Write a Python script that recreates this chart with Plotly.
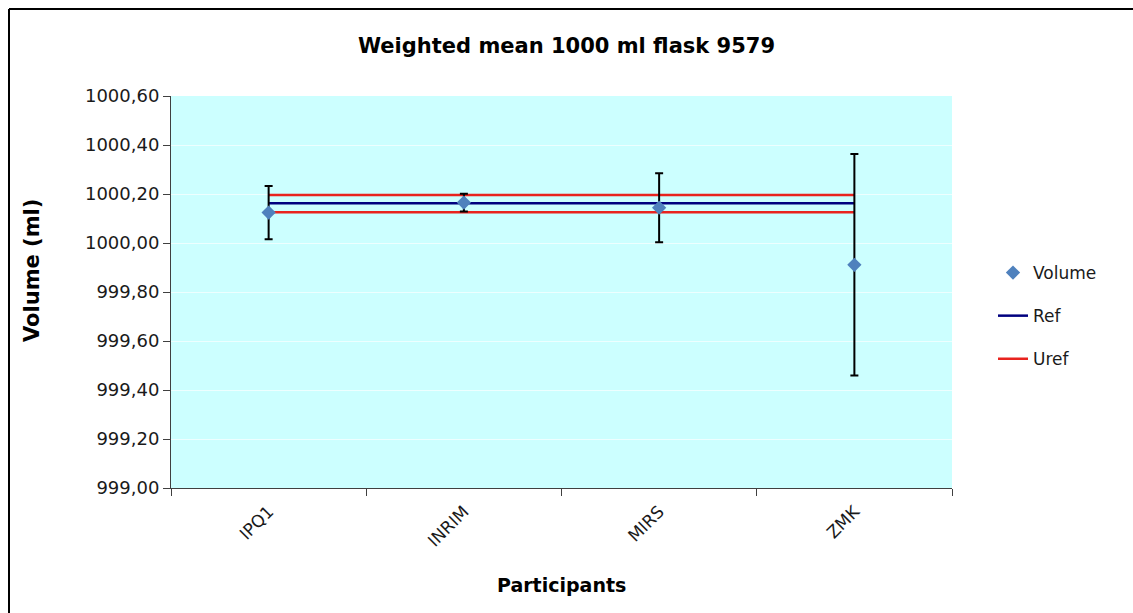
import plotly.graph_objects as go

participants = ["IPQ1", "INRIM", "MIRS", "ZMK"]
volume = [1000.124, 1000.165, 1000.144, 999.911]
volume_err = [0.109, 0.036, 0.141, 0.452]
ref = [1000.162, 1000.162, 1000.162, 1000.162]
uref_upper = [1000.196, 1000.196, 1000.196, 1000.196]
uref_lower = [1000.126, 1000.126, 1000.126, 1000.126]
y_ticks = [999.0, 999.2, 999.4, 999.6, 999.8, 1000.0, 1000.2, 1000.4, 1000.6]

W, H = 1133, 613
L, R, T, B = 171, 181, 96, 125
pw, ph = W - L - R, H - T - B

def px_x(x):
    return (x - L) / pw

def px_y(y):
    return (H - B - y) / ph

FONT = "DejaVu Sans"

fig = go.Figure()
fig.add_trace(go.Scatter(
    x=participants, y=ref, mode="lines", name="Ref",
    line=dict(color="#00007F", width=2.5), legendgroup="b", legendrank=2))
fig.add_trace(go.Scatter(
    x=participants, y=uref_upper, mode="lines", name="Uref",
    line=dict(color="#E8231E", width=2.5), legendgroup="c", legendrank=3))
fig.add_trace(go.Scatter(
    x=participants, y=uref_lower, mode="lines", name="Uref",
    line=dict(color="#E8231E", width=2.5), legendgroup="c", showlegend=False))
fig.add_trace(go.Scatter(
    x=participants, y=volume, mode="markers", name="Volume",
    marker=dict(symbol="diamond", size=11, color="#4F81BD"),
    error_y=dict(type="data", array=volume_err, visible=True,
                 color="black", thickness=2, width=4),
    legendgroup="a", legendrank=1))

fig.update_layout(
    width=W, height=H,
    margin=dict(l=L, r=R, t=T, b=B),
    paper_bgcolor="white",
    plot_bgcolor="#CCFFFF",
    separators=",.",
    font=dict(family=FONT, size=16, color="#1a1a1a"),
    title=dict(text="<b>Weighted mean 1000 ml flask 9579</b>",
               x=0.5, xanchor="center", y=1 - 46 / H, yanchor="middle",
               font=dict(family=FONT, size=21, color="black")),
    showlegend=True,
    legend=dict(x=px_x(993), y=px_y(255), xanchor="left", yanchor="top",
                bgcolor="rgba(0,0,0,0)", font=dict(family=FONT, size=17, color="#1a1a1a"),
                tracegroupgap=18, traceorder="grouped"),
    xaxis=dict(type="category", tickson="boundaries", ticks="outside", ticklen=7,
               tickcolor="#404040", showline=True, linecolor="#404040", linewidth=1,
               tickangle=-45, showgrid=False, zeroline=False, ticklabelstandoff=6,
               tickfont=dict(family=FONT, size=17, color="#1a1a1a"),
               range=[-0.5, 3.5]),
    yaxis=dict(range=[999.0, 1000.6], tickvals=y_ticks, tickformat=".2f",
               ticks="outside", ticklen=7, tickcolor="#404040",
               showline=True, linecolor="#404040", linewidth=1,
               showgrid=True, gridcolor="#EDFFFF", gridwidth=1, zeroline=False,
               tickfont=dict(family=FONT, size=18, color="#1a1a1a")),
    annotations=[
        dict(text="<b>Volume (ml)</b>", xref="paper", yref="paper",
             x=px_x(32), y=px_y(271), textangle=-90, showarrow=False,
             xanchor="center", yanchor="middle",
             font=dict(family=FONT, size=21, color="black")),
        dict(text="<b>Participants</b>", xref="paper", yref="paper",
             x=0.5, y=px_y(585), showarrow=False,
             xanchor="center", yanchor="middle",
             font=dict(family=FONT, size=19, color="black")),
    ],
    shapes=[
        dict(type="line", xref="paper", yref="paper",
             x0=px_x(9), x1=px_x(1140), y0=px_y(9), y1=px_y(9),
             line=dict(color="black", width=2)),
        dict(type="line", xref="paper", yref="paper",
             x0=px_x(9), x1=px_x(9), y0=px_y(9), y1=px_y(620),
             line=dict(color="black", width=2)),
    ],
)

fig.write_html("out.html")
